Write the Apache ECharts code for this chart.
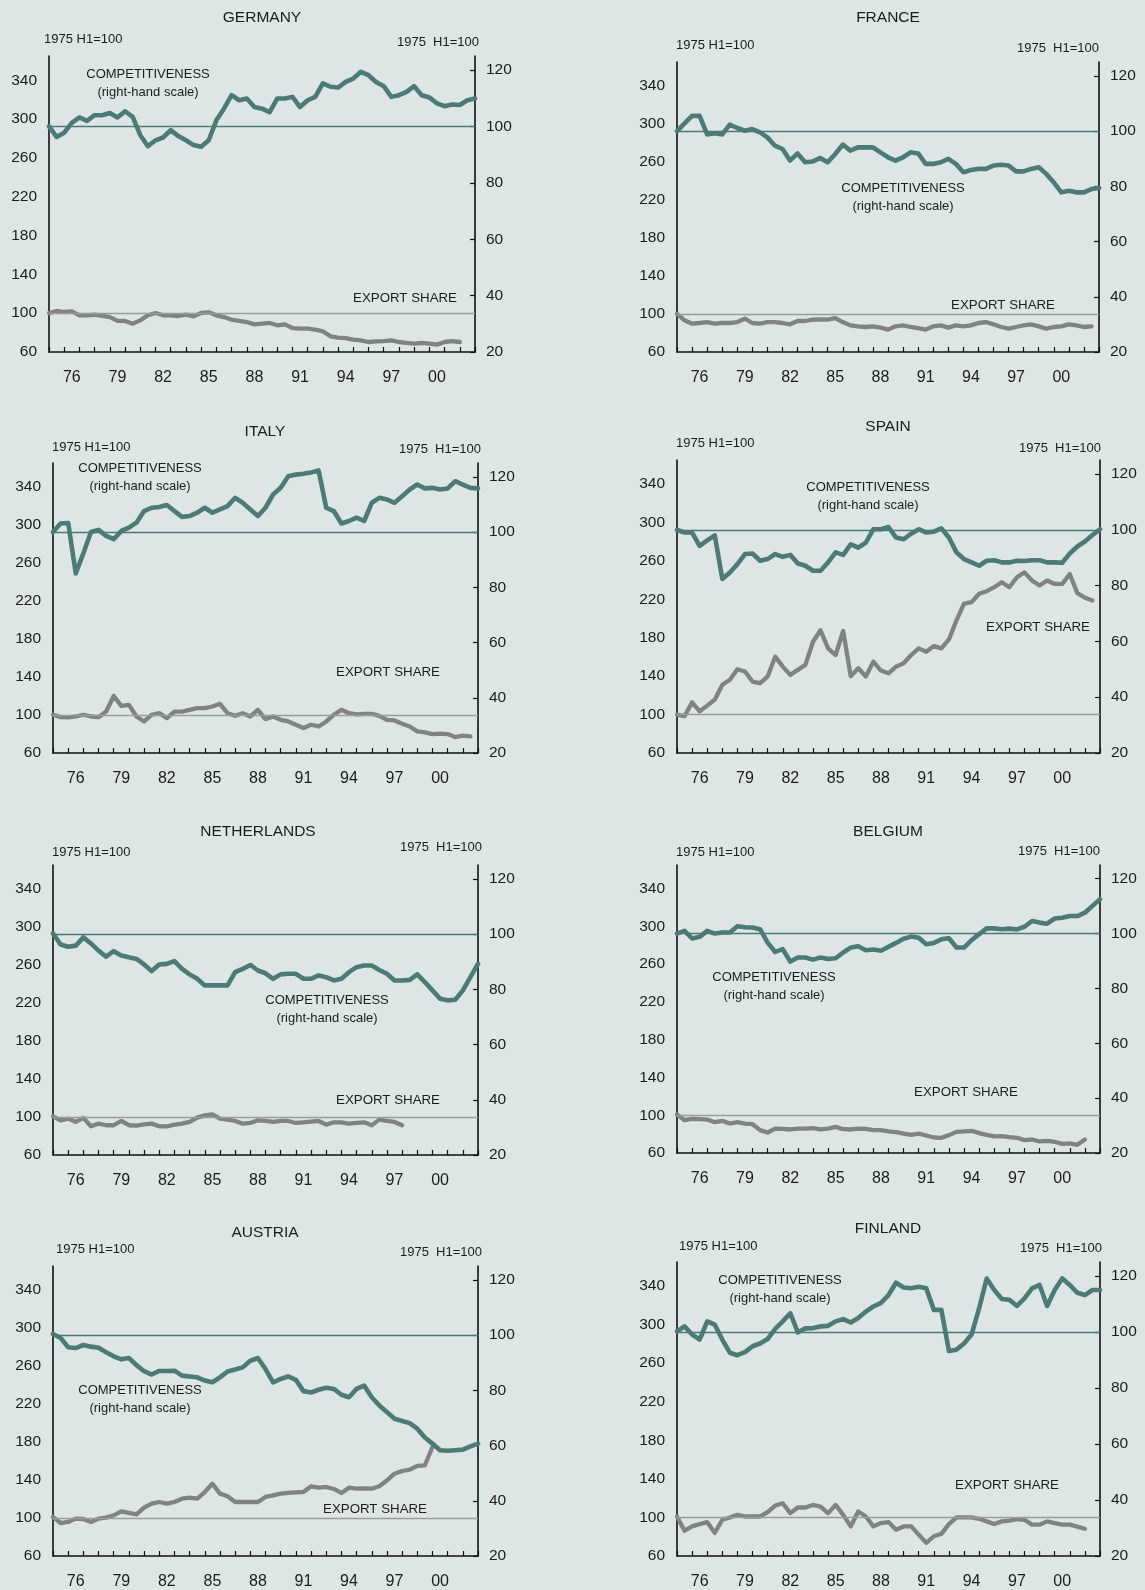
<!DOCTYPE html>
<html><head><meta charset="utf-8">
<script src="https://cdn.jsdelivr.net/npm/echarts@6/dist/echarts.min.js"></script>
<style>html,body{margin:0;padding:0;background:#dee6e5;}#c{width:1145px;height:1590px;}</style>
</head><body><div id="c"></div>
<script>
// ---- data (semi-annual, starting 1975 H1) ----
const startYear = 1975;
const stepYears = 0.5;
const xTickYears = [1975,1976,1977,1978,1979,1980,1981,1982,1983,1984,1985,1986,1987,1988,1989,1990,1991,1992,1993,1994,1995,1996,1997,1998,1999,2000,2001,2002,2003];
const xLabelPos = [1976.5,1979.5,1982.5,1985.5,1988.5,1991.5,1994.5,1997.5,2000.5];
const xLabelText = ['76','79','82','85','88','91','94','97','00'];
const leftTicks = [60,100,140,180,220,260,300,340];
const rightTicks = [20,40,60,80,100,120];
const countries = ['GERMANY','FRANCE','ITALY','SPAIN','NETHERLANDS','BELGIUM','AUSTRIA','FINLAND'];

const germanyComp = [100,96.3,97.8,101.3,103.2,102,104,104,104.8,103.2,105.4,103.4,96.9,93,95.1,96.1,98.7,96.6,95.1,93.4,92.8,95.1,102.2,106.3,111.1,109.3,109.9,106.9,106.3,105.1,109.9,109.9,110.5,106.9,109.3,110.5,115.3,114.1,113.8,115.8,117,119.4,118.2,115.8,114.3,110.5,111.1,112.3,114.3,111.1,110.3,108.2,107.2,107.8,107.6,109.3,109.9];
const germanyExp = [100,102.3,101.2,101.9,97.8,97.8,98.5,97.1,96,92,92,89.2,92.6,97.8,100.2,97.8,97.8,97.1,98.5,96.8,100.2,100.9,97.8,96,93.3,92,90.9,88.5,89.2,89.9,87.5,88.5,84.7,84.1,84.1,83,81.3,76.2,74.8,74.4,72.7,72,70.3,71,71.3,72,70.3,69.3,68.6,69.3,68.6,67.6,70.3,71.3,70.3];
const franceComp = [100,102.8,105.5,105.5,98.8,99.2,98.8,102.3,101.1,100.1,100.7,99.5,97.7,94.7,93.5,89.3,91.9,88.7,89,90.2,88.7,91.7,95.1,92.9,94.1,94.1,94.1,92.3,90.5,89.3,90.5,92.3,91.9,88.1,88.1,88.7,89.9,88.1,85.1,85.9,86.3,86.3,87.5,87.8,87.5,85.4,85.4,86.3,86.9,84.5,81.4,77.8,78.4,77.8,77.8,79,79.4];
const franceExp = [100,93.3,89.8,90.5,91.5,89.8,90.5,90.5,91.5,95,90.5,89.8,91.5,91.5,90.5,89.1,92.6,92.6,94,94.3,94,95.7,91.5,88,87,86.3,87,85.6,83.5,87,88,86.3,85.2,83.5,87,88,85.6,88,87,88,90.5,91.5,89.1,86.3,84.5,86.3,88,89.1,87,84.5,86.3,87,89.1,88,86.3,87];
const italyComp = [100,103.1,103.3,85,92.3,100,100.8,98.6,97.4,100.4,101.6,103.4,107.6,108.8,109.1,109.8,107.6,105.5,105.8,107,108.8,107,108.2,109.4,112.4,110.6,108.2,105.8,108.8,113.6,116,120.2,120.8,121.1,121.6,122.3,108.8,107.6,103.1,104,105.2,104,110.6,112.4,111.8,110.6,113,115.4,117.2,115.8,116,115.4,115.8,118.4,117.2,116,115.8];
const italyExp = [100.2,97.7,97.4,98.4,100.2,98.4,97.7,103.6,120,109.6,110.6,98.4,93.2,100.2,101.9,96.7,103.6,103.6,105.4,107.1,107.1,108.9,111.7,101.9,99.1,101.9,98.4,105.4,95.6,98.4,94.9,93.2,89.7,86.2,89.7,87.9,93.2,100.2,105.4,101.9,100.5,101.2,101.2,99.1,94.9,94.2,90.7,87.9,82.7,81.6,79.9,80.3,79.9,76.8,78.2,77.5];
const spainComp = [99.9,99,99,94.2,96.2,98,82.4,84.7,87.7,91.3,91.5,88.9,89.5,91.3,90.3,91,87.9,87.1,85.3,85.3,88.3,91.9,91,94.8,93.6,95.4,100.2,100.2,101,97.2,96.6,98.6,100.2,99,99.3,100.5,97.2,91.9,89.5,88.3,87.1,88.9,89.1,88.3,88.3,88.9,88.8,89.1,89.1,88.3,88.3,88.2,91.5,94,95.8,98.1,100.2];
const spainExp = [100,98.3,112.7,103.4,109.3,115.5,131,136.2,147.2,144.8,134.4,132.7,139.6,160.3,149.9,141.3,146.5,151.7,175.8,187.8,168.9,162,187,140,148.2,139.6,155.1,145.8,143,149.9,153.4,162,168.9,165.4,171.3,168.9,178.2,198.1,215.4,217.1,225.7,228.4,232.6,237.7,232.6,242.9,248,239.5,234.3,239.5,236,236,246.3,226.4,221.6,218.8];
const netherlandsComp = [100.2,96.2,95.4,95.8,98.8,96.6,94,91.8,93.8,92.2,91.6,91,89,86.6,89,89.2,90.2,87.4,85.4,83.8,81.4,81.4,81.4,81.4,86.2,87.4,88.8,86.8,85.8,83.8,85.4,85.6,85.6,83.8,83.8,85,84.4,83.2,83.8,86.2,88,88.6,88.6,87,85.6,83.2,83.2,83.4,85.4,82.6,79.6,76.6,76,76.2,79.6,84.4,89.2];
const netherlandsExp = [100.7,96.5,98.3,94.8,99,90.2,93,91.3,91.3,95.8,91.3,90.9,92.3,93,90.2,90.2,92,93,94.8,99.3,101.7,102.8,98.3,97.2,95.8,93,93.7,96.5,95.8,94.8,95.8,95.8,93.7,94.4,95.1,95.8,92,94.4,94.4,93,93.7,94.4,91.3,97.2,95.8,94.8,91.3];
const belgiumComp = [100,101,98.2,98.8,101,100,100.4,100.4,102.7,102.3,102.2,101.6,96.7,93.3,94.3,89.8,91.3,91.3,90.5,91.3,90.7,91,93.1,94.9,95.4,93.9,94.2,93.7,95.2,96.6,98.1,98.9,98.5,96.1,96.6,97.9,98.3,94.9,94.9,97.6,99.8,101.9,101.9,101.6,101.8,101.5,102.5,104.6,104,103.6,105.5,105.8,106.4,106.4,107.6,110.1,112.5];
const belgiumExp = [100.7,94.7,96.1,95.8,95.4,92.6,94,91.2,92.6,91.2,90.5,84.2,81.7,85.9,85.6,84.9,85.9,85.9,86.3,84.9,85.9,87.7,85.2,84.9,85.9,85.6,84.2,84.2,82.8,82.1,80.6,79.2,80.6,78.5,76.4,76.1,78.9,82.4,82.8,83.5,81,79.2,77.5,77.8,76.8,76.1,73.6,74.3,72.2,72.9,71.9,69.7,70.1,68.7,74.3];
const austriaComp = [100.4,98.9,95.6,95.3,96.4,95.8,95.4,93.8,92.3,91.2,91.7,89.1,86.9,85.7,87,87,87.1,85.3,85,84.7,83.5,82.9,84.7,86.8,87.5,88.3,90.7,91.7,87.7,82.9,84.1,85,83.8,79.7,79.2,80.2,80.9,80.5,78.4,77.5,80.5,81.7,77.5,74.5,72.1,69.7,68.9,68.1,66.1,62.9,60.7,58.3,58.1,58.3,58.5,59.7,60.7];
const austriaExp = [101,94.7,95.8,99.3,98.9,95.8,99.3,100.4,102.8,107,105.3,103.9,110.9,115.1,116.8,115.1,116.8,120.3,121.4,120.3,127.3,136,125.6,122.8,116.8,116.8,116.8,116.8,122.1,123.8,125.6,126.3,127,127.3,133.3,131.9,132.6,130.5,126.3,131.9,130.8,131.2,130.8,133.3,139.6,146.6,149.4,150.8,154.7,155.4,174.6];
const finlandComp = [100.2,102,99.1,97.3,103.8,102.6,97.3,92.6,91.7,92.8,94.9,95.9,97.5,101.1,103.8,106.7,99.9,101.3,101.4,102,102.2,103.8,104.6,103.4,105,107.3,109.1,110.4,113.2,117.6,115.9,115.6,116.2,115.6,107.9,107.9,93.2,93.7,95.9,99.1,108.5,119.1,115,111.8,111.5,109.3,112,115.6,116.8,109.3,115,119.1,116.8,114,113.2,115,115];
const finlandExp = [101,86.3,90.7,93.1,95.2,84,97.6,100,102.7,101,101,101,105.5,112.3,114.7,104.5,110.3,110.3,113,111.3,104.5,113,102.7,90.7,106.2,101,90.7,94.2,95.2,87.3,90.7,90.7,82.2,73.6,80.5,82.9,93.1,100,100,100,98.6,95.9,93.1,95.9,96.6,98.3,97.6,92.5,92.5,95.9,94.2,92.5,92.5,90.4,88.3];

const compSeries = [germanyComp, franceComp, italyComp, spainComp, netherlandsComp, belgiumComp, austriaComp, finlandComp];
const expSeries = [germanyExp, franceExp, italyExp, spainExp, netherlandsExp, belgiumExp, austriaExp, finlandExp];

// ---- layout (pixels) ----
const grids = [
  {left:49, top:56, width:426, height:296},
  {left:677, top:62, width:422, height:290},
  {left:53, top:463, width:425, height:290},
  {left:677, top:460, width:423, height:293},
  {left:53, top:865, width:425, height:290},
  {left:677, top:865, width:423, height:288},
  {left:53, top:1266, width:425, height:290},
  {left:677, top:1262, width:423, height:296}
];
const notes = [
  {title:[262,18], lh:[44,39], rh:[479,42], comp:[148,74], exp:[405,298]},
  {title:[888,18], lh:[676,45], rh:[1099,48], comp:[903,188], exp:[1003,305]},
  {title:[265,432], lh:[52,447], rh:[481,449], comp:[140,468], exp:[388,672]},
  {title:[888,427], lh:[676,443], rh:[1101,448], comp:[868,487], exp:[1038,627]},
  {title:[258,832], lh:[52,852], rh:[482,847], comp:[327,1000], exp:[388,1100]},
  {title:[888,832], lh:[676,852], rh:[1100,851], comp:[774,977], exp:[966,1092]},
  {title:[265,1233], lh:[56,1249], rh:[482,1252], comp:[140,1390], exp:[375,1509]},
  {title:[888,1229], lh:[679,1246], rh:[1102,1248], comp:[780,1280], exp:[1007,1485]}
];

const TEAL = '#4c7a77';
const GREY = '#828282';
const INK = '#1c1c1c';
const FONT = '"Liberation Sans", Arial, sans-serif';

function toXY(arr){ return arr.map((v,k)=>[startYear + stepYears*k, v]); }
function txt(p, text, size, align){
  return {type:'text', x:p[0], y:p[1], silent:true, z:50,
    style:{text:text, fill:INK, font: size+'px '+FONT, align: align||'center', verticalAlign:'middle'}};
}

const option = {animation:false, backgroundColor:'#dee6e5', grid:[], xAxis:[], yAxis:[], series:[], graphic:[]};
const axisLineStyle = {color:'#111', width:1.6};

countries.forEach((name, i) => {
  option.grid.push(Object.assign({containLabel:false}, grids[i]));
  option.xAxis.push({
    gridIndex:i, type:'value', min:1975, max:2003,
    axisLine:{onZero:false, lineStyle:axisLineStyle},
    axisTick:{inside:true, length:5, customValues:xTickYears, lineStyle:{color:'#111', width:1.2}},
    axisLabel:{customValues:xLabelPos, color:INK, fontSize:16, fontFamily:FONT, margin:18,
      formatter:(v)=>{ const k = xLabelPos.indexOf(v); return k>=0 ? xLabelText[k] : ''; }},
    splitLine:{show:false}
  });
  option.yAxis.push({
    gridIndex:i, type:'value', position:'left', min:60, max:365,
    axisLine:{show:true, onZero:false, lineStyle:axisLineStyle},
    axisTick:{show:false},
    axisLabel:{customValues:leftTicks, color:INK, fontSize:15.5, fontFamily:FONT, margin:12},
    splitLine:{show:false}
  });
  option.yAxis.push({
    gridIndex:i, type:'value', position:'right', min:20, max:125,
    axisLine:{show:true, onZero:false, lineStyle:axisLineStyle},
    axisTick:{show:true, inside:true, length:5, customValues:rightTicks, lineStyle:{color:'#111', width:1.2}},
    axisLabel:{customValues:rightTicks, color:INK, fontSize:15.5, fontFamily:FONT, margin:11},
    splitLine:{show:false}
  });
  option.series.push({
    name: name+' competitiveness', type:'line', xAxisIndex:i, yAxisIndex:2*i+1,
    data: toXY(compSeries[i]), showSymbol:false, symbol:'none', smooth:false, z:4,
    lineStyle:{color:TEAL, width:4.6, join:'round', cap:'round'}, itemStyle:{color:TEAL},
    markLine:{silent:true, symbol:'none', label:{show:false}, animation:false,
      lineStyle:{color:TEAL, width:1.3, type:'solid'}, data:[{yAxis:100}]}
  });
  option.series.push({
    name: name+' export share', type:'line', xAxisIndex:i, yAxisIndex:2*i,
    data: toXY(expSeries[i]), showSymbol:false, symbol:'none', smooth:false, z:3,
    lineStyle:{color:GREY, width:4.3, join:'round', cap:'round'}, itemStyle:{color:GREY},
    markLine:{silent:true, symbol:'none', label:{show:false}, animation:false,
      lineStyle:{color:'#9c9c9c', width:1.3, type:'solid'}, data:[{yAxis:100}]}
  });
  const n = notes[i];
  option.graphic.push(txt(n.title, name, 15.5));
  option.graphic.push(txt(n.lh, '1975 H1=100', 13, 'left'));
  option.graphic.push(txt(n.rh, '1975  H1=100', 13, 'right'));
  option.graphic.push(txt(n.comp, 'COMPETITIVENESS', 13));
  option.graphic.push(txt([n.comp[0], n.comp[1]+18], '(right-hand scale)', 13));
  option.graphic.push(txt(n.exp, 'EXPORT SHARE', 13.3));
});

const chart = echarts.init(document.getElementById('c'), null, {renderer:'canvas', width:1145, height:1590});
chart.setOption(option);
</script>
</body></html>
